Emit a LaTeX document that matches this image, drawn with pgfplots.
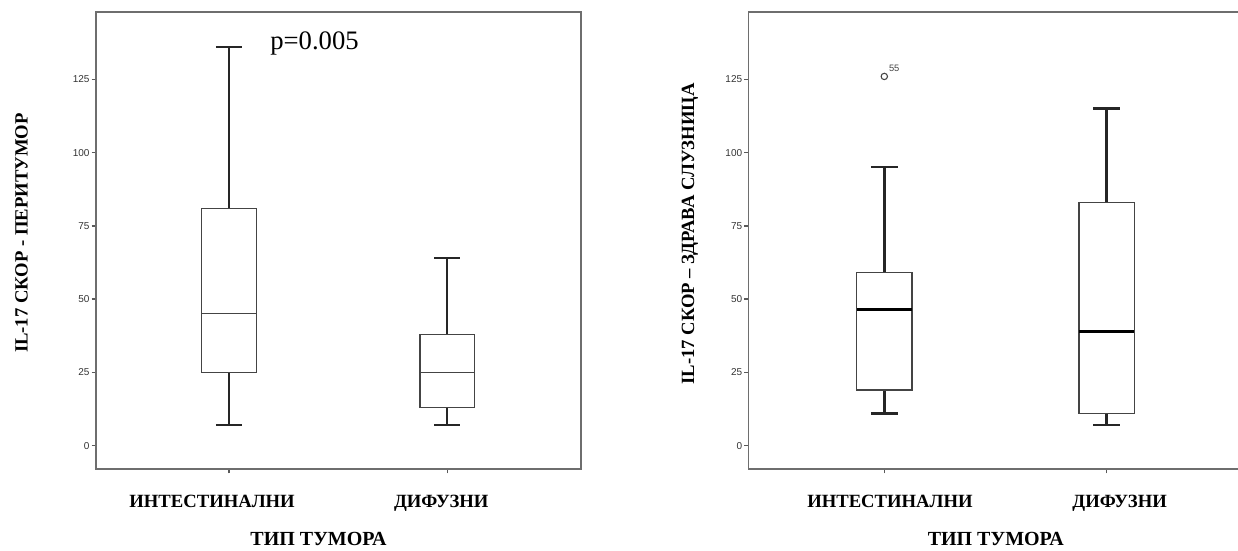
\documentclass[border=0pt]{standalone}
\usepackage{fontspec}
\setmainfont{Liberation Serif}
\newfontfamily\sansf{Liberation Sans}
\usepackage{pgfplots}
\pgfplotsset{compat=1.18}
\usepgfplotslibrary{statistics}
\definecolor{framec}{HTML}{6E6E6E}
\definecolor{boxc}{HTML}{444444}
\definecolor{tickc}{HTML}{333333}
\pgfplotsset{
  spss/.style={
    scale only axis,
    xmin=0.39, xmax=2.613, ymin=-8, ymax=148,
    height=342.75pt,
    xtick={1,2},
    ytick={0,25,50,75,100,125},
    tick align=outside, major tick length=3.2pt,
    xtick pos=bottom, ytick pos=left,
    axis line style={framec, line width=1.1pt},
    tick style={black!65, line width=1.1pt},
    /pgf/number format/assume math mode=true,
    yticklabel style={font=\sansf\fontsize{7.5}{9}\selectfont, text=tickc, inner sep=0pt, anchor=east, xshift=-1.5pt},
    xticklabel style={font=\bfseries\fontsize{14}{16}\selectfont, inner sep=0pt, anchor=base, yshift=-25.5pt},
    every axis x label/.style={at={(axis description cs:0.5,0)}, anchor=base, yshift=-57pt, font=\bfseries\fontsize{15}{18}\selectfont},
    boxplot/draw direction=y,
    boxplot/box extend=0.25,
    boxplot/whisker extend=0.12,
    boxplot/every box/.style={draw=boxc, line width=1pt},
    boxplot/every whisker/.style={draw=black!85, line width=1.8pt},
  }
}
\begin{document}
\begin{tikzpicture}
% ---------------- left panel ----------------
\begin{axis}[spss,
  at={(72pt,60.75pt)}, anchor=south west,
  width=363.75pt,
  xticklabels={{\hspace*{-25.5pt}ИНТЕСТИНАЛНИ},{\hspace*{-9pt}ДИФУЗНИ}},
  xlabel={ТИП ТУМОРА}, xlabel style={xshift=-15pt},
  ylabel={IL-17 СКОР - ПЕРИТУМОР},
  every axis y label/.style={at={(axis description cs:0,0.5)}, xshift=-55.9pt, yshift=5.6pt, rotate=90, anchor=center, font=\bfseries\fontsize{14}{16}\selectfont},
  boxplot/every median/.style={draw=boxc, line width=1pt},
]
\addplot[boxplot prepared={draw position=1, lower whisker=7, lower quartile=25, median=45, upper quartile=81, upper whisker=136}] coordinates {};
\addplot[boxplot prepared={draw position=2, lower whisker=7, lower quartile=13, median=25, upper quartile=38, upper whisker=64}] coordinates {};
\node[anchor=base west, inner sep=0pt, font=\fontsize{20}{24}\selectfont] at (axis cs:1.188,135.2) {p=0.005};
\end{axis}
% ---------------- right panel ----------------
\begin{axis}[spss,
  at={(561.5pt,60.75pt)}, anchor=south west,
  width=370.7pt,
  xticklabels={{ИНТЕСТИНАЛНИ\hspace*{-8.5pt}},{ДИФУЗНИ\hspace*{-19.5pt}}},
  xlabel={ТИП ТУМОРА},
  ylabel={IL-17 СКОР – ЗДРАВА СЛУЗНИЦА},
  every axis y label/.style={at={(axis description cs:0,0.5)}, xshift=-44pt, yshift=4.9pt, rotate=90, anchor=center, font=\bfseries\fontsize{14}{16}\selectfont},
  boxplot/every median/.style={draw=black, line width=1.9pt},
]
\addplot[mark=o, mark size=2.4pt, mark options={draw=boxc, line width=0.8pt}, boxplot prepared={draw position=1, lower whisker=11, lower quartile=19, median=46.5, upper quartile=59, upper whisker=95}] table[row sep=\\, y index=0] {126\\};
\addplot[boxplot prepared={draw position=2, lower whisker=7, lower quartile=11, median=39, upper quartile=83, upper whisker=115}] coordinates {};
\node[anchor=south west, inner sep=0pt, text=boxc, font=\sansf\fontsize{7}{8}\selectfont] at (axis cs:1.02,127.5) {55};
\end{axis}
\pgfresetboundingbox
\useasboundingbox (0,0) rectangle (928.5pt,412.5pt);
\end{tikzpicture}
\end{document}
